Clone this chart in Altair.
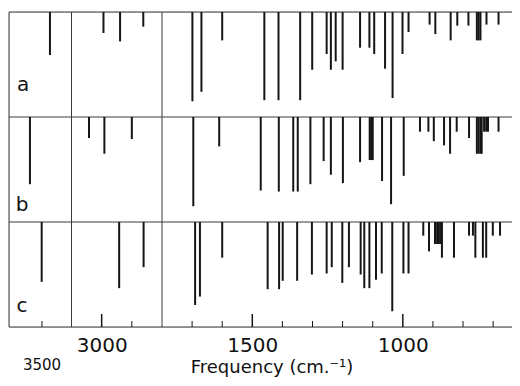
import altair as alt
import pandas as pd

# ---- data: wavenumber (cm^-1) and relative band strength (0-100) ----
a_freq = [3392, 2994, 2939, 2862,
          1699, 1669, 1600, 1460, 1413, 1341, 1301, 1253, 1239, 1223,
          1200, 1142, 1111, 1095, 1059, 1034, 1001, 981,
          911, 892, 841, 819, 782, 754, 748, 742, 722, 682]
a_int = [41, 20, 28, 14,
         85, 76, 27, 84, 84, 84, 55, 40, 55, 47,
         55, 34, 34, 40, 54, 82, 40, 19,
         12, 21, 27, 13, 13, 27, 27, 27, 12, 12]

b_freq = [3663, 3042, 2991, 2900,
          1696, 1610, 1472, 1412, 1364, 1349, 1307, 1263, 1239, 1199,
          1142, 1110, 1105, 1100, 1069, 1039, 997,
          943, 915, 897, 863, 843, 821, 780, 754, 748, 742, 738, 730, 723, 717, 682]
b_int = [64, 20, 35, 21,
         85, 28, 70, 71, 71, 71, 64, 42, 55, 63,
         43, 41, 41, 41, 61, 83, 56,
         14, 14, 23, 27, 35, 14, 20, 35, 35, 35, 35, 14, 14, 14, 14]

c_freq = [3504, 2942, 2861,
          1690, 1674, 1600, 1449, 1411, 1399, 1351, 1302, 1253, 1236,
          1201, 1179, 1140, 1128, 1111, 1089, 1070, 1035, 998, 981,
          932, 913, 893, 886, 880, 873, 870, 830, 780, 767, 759, 734, 723, 701, 677]
c_int = [57, 63, 43,
         79, 71, 34, 64, 64, 56, 56, 50, 49, 43,
         58, 43, 50, 63, 63, 55, 49, 85, 49, 49,
         13, 28, 21, 21, 21, 21, 34, 34, 13, 13, 34, 34, 34, 13, 13]

panel_labels = ["a", "b", "c"]
dividers = [3100, 1800]
major_ticks = [3000, 1500, 1000]
minor_ticks = [3500, 2900, 1700, 1600, 1400, 1300, 1200, 1100, 900, 800, 700]
axis_labels = [3000, 1500, 1000]
low_label = [3500]
x_title = "Frequency (cm.\u207b\u00b9)"

W, H = 503, 315          # plot area; three stacked strips of 100 units each
INK = "#151515"
FRAME = "#3a3a3a"
FONT = "DejaVu Sans"

# stack the three spectra: each strip is 100 units tall, bands hang from its top edge
rows = []
for p, (fs, its) in enumerate([(a_freq, a_int), (b_freq, b_int), (c_freq, c_int)]):
    for f, i in zip(fs, its):
        rows.append({"panel": panel_labels[p], "freq": f,
                     "top": p * 100, "bottom": p * 100 + i})
bands = pd.DataFrame(rows)
edges = pd.DataFrame({"edge": [0, 100, 200, 300]})

# broken wavenumber axis: compressed 3950-3100, then 3100-2800 and 1800-614 at one scale
X = alt.Scale(domain=[3947, 3100, 2800, 1800, 614],
              range=[0, 62.5, 153, 153, 510], nice=False, zero=False)
Y = alt.Scale(domain=[0, 300], range=[0, H], nice=False, zero=False)

bottom_axis = alt.Axis(values=axis_labels, format="d", labelFont=FONT, labelFontSize=20,
                       labelColor="#111", labelPadding=8, ticks=False, tickSize=0,
                       domain=False, grid=False, title=None, labelFlush=False,
                       labelOverlap=False)


def xq(field="freq"):
    return alt.X(f"{field}:Q", scale=X, axis=bottom_axis)


lines = alt.Chart(bands).mark_rule(color=INK, strokeWidth=2).encode(
    x=xq(), y=alt.Y("top:Q", scale=Y, axis=None), y2="bottom:Q")

hlines = alt.Chart(edges).mark_rule(color=FRAME, strokeWidth=1).encode(
    x=alt.value(0), x2=alt.value(W + 1), y=alt.Y("edge:Q", scale=Y, axis=None))

left = alt.Chart(pd.DataFrame({"k": [0]})).mark_rule(color=FRAME, strokeWidth=1).encode(
    x=alt.value(0), y=alt.value(0), y2=alt.value(H))

divs = alt.Chart(pd.DataFrame({"freq": dividers})).mark_rule(
    color=FRAME, strokeWidth=1).encode(x=xq(), y=alt.value(0), y2=alt.value(H))

minor = alt.Chart(pd.DataFrame({"freq": minor_ticks})).mark_rule(
    color=INK, strokeWidth=1).encode(x=xq(), y=alt.value(H), y2=alt.value(H - 6))
major = alt.Chart(pd.DataFrame({"freq": major_ticks})).mark_rule(
    color=INK, strokeWidth=1.5).encode(x=xq(), y=alt.value(H), y2=alt.value(H - 13))


def letter(txt, x, y):
    return alt.Chart(pd.DataFrame({"t": [txt]})).mark_text(
        font=FONT, fontSize=20, align="center", baseline="alphabetic", color="#111").encode(
        text="t:N", x=alt.value(x), y=alt.value(y))


la = letter(panel_labels[0], 14, 79)
lb = letter(panel_labels[1], 13, 199)
lc = letter(panel_labels[2], 13, 300)

low = alt.Chart(pd.DataFrame({"freq": low_label})).mark_text(
    font=FONT, fontSize=15, align="center", baseline="alphabetic", color="#111").encode(
    x=xq(), y=alt.value(H + 43), text=alt.Text("freq:Q", format="d"))

title = alt.Chart(pd.DataFrame({"t": [x_title]})).mark_text(
    font=FONT, fontSize=18, align="center", baseline="alphabetic", color="#111").encode(
    text="t:N", x=alt.value(263), y=alt.value(H + 46))

chart = alt.layer(hlines, left, divs, lines, minor, major, la, lb, lc, low, title).properties(
    width=W, height=H,
    padding={"left": 1, "top": 4, "right": 0, "bottom": 51},
    autosize=alt.AutoSizeParams(type="none"),
).configure_view(stroke=None).configure(background="white")

chart.save("out.html", embed_options={"renderer": "svg", "actions": False})
